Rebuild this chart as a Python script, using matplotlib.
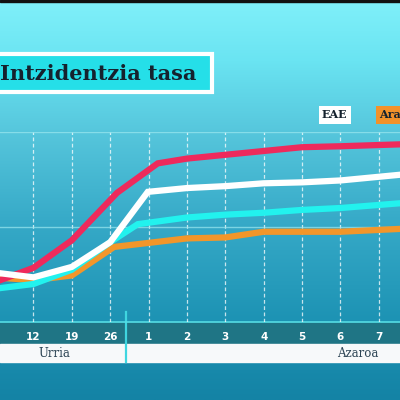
import numpy as np
import matplotlib.pyplot as plt
from matplotlib.colors import LinearSegmentedColormap
from matplotlib.patches import Rectangle

# Datuak: x = kategoria posizioa (0 = urriak 5, 4 = azaroak 1)
egunak = ["5", "12", "19", "26", "1", "2", "3", "4", "5", "6", "7", "8"]
hilabeteak = ["Urria", "Azaroa"]

gorria_x = [0, 1, 2, 3.18, 4.24, 5, 6, 7, 8, 9, 10.55]
gorria_y = [42, 57, 86, 136, 167, 172, 176, 180, 184, 185, 187]

eae_x = [0, 1, 2, 3, 3.98, 5, 6, 7, 8, 9, 10.55]
eae_y = [52, 47, 58, 84, 137, 141, 143, 146, 147, 149, 155]

ziana_x = [0, 1, 2, 3, 3.72, 5, 6, 7, 8, 9, 10.55]
ziana_y = [35, 40, 55, 84, 103, 110, 113, 115, 118, 120, 125]

araba_x = [0, 1, 2, 3.1, 5, 6, 7, 8, 9, 10.55]
araba_y = [47, 44, 49, 79, 88, 89, 95, 95, 95, 98]

fig = plt.figure(figsize=(4, 4), dpi=100)

# hondoko gradientea
bg = fig.add_axes([0, 0, 1, 1])
bg.axis("off")
cmap = LinearSegmentedColormap.from_list(
    "hondoa",
    [(0.0, "#80f0fa"), (0.15, "#6ae4f2"), (0.33, "#56c6dc"),
     (0.55, "#37aac8"), (0.8, "#1d93b4"), (1.0, "#1483a5")])
bg.imshow(np.linspace(0, 1, 256).reshape(-1, 1), aspect="auto", cmap=cmap,
          extent=[0, 1, 0, 1])
bg.set_xlim(0, 1)
bg.set_ylim(0, 1)

# goiko marra beltza
bg.add_patch(Rectangle((0, 0.995), 1, 0.005, color="#111111"))

# izenburuaren kutxa
bg.add_patch(Rectangle((-0.01, 0.77), 0.54, 0.095, facecolor="#25dfe8",
                       edgecolor="white", linewidth=3))
fig.text(0.0, 0.8, "Intzidentzia tasa", fontsize=15, fontweight="bold",
         family="DejaVu Serif", color="#15222e", va="baseline", ha="left")

# legenda
fig.text(0.837, 0.713, "EAE", fontsize=8, fontweight="bold",
         family="DejaVu Serif", color="#15222e", ha="center", va="center",
         bbox=dict(boxstyle="square,pad=0.3", facecolor="white", edgecolor="none"))
fig.text(0.948, 0.713, "Araba", fontsize=8, fontweight="bold",
         family="DejaVu Serif", color="#15222e", ha="left", va="center",
         bbox=dict(boxstyle="square,pad=0.3", facecolor="#f2922a", edgecolor="none"))

# behealdeko bandak
bg.add_patch(Rectangle((0, 0.14), 1, 0.054, color="#1f7585"))
bg.add_patch(Rectangle((0, 0.096), 1, 0.043, color="#f7f9fa"))
bg.plot([0.315, 0.315], [0.096, 0.22], color="#3fd6e0", lw=1.6)
bg.plot([0, 1], [0.194, 0.194], color="#55dde6", lw=1.2)

# grafikoa
ax = fig.add_axes([0, 0.195, 1, 0.475])
ax.patch.set_alpha(0)
for s in ax.spines.values():
    s.set_visible(False)

for i in range(len(egunak)):
    ax.axvline(i, color="white", lw=0.9, ls=(0, (3, 2)), alpha=0.75)
for v in [100, 200]:
    ax.axhline(v, color="#9be8f0", lw=1.0, alpha=0.7)

ax.plot(araba_x, araba_y, color="#f2962a", lw=4.5, solid_joinstyle="miter")
ax.plot(ziana_x, ziana_y, color="#22f2ee", lw=4.5, solid_joinstyle="miter")
ax.plot(gorria_x, gorria_y, color="#ee2a5c", lw=4.5, solid_joinstyle="miter")
ax.plot(eae_x, eae_y, color="white", lw=4.5, solid_joinstyle="miter")

ax.set_xlim(0.13, 10.55)
ax.set_ylim(0, 200)

# ertzetako egunak (5 eta 8) ez dira ikusten
ax.set_xticks(range(1, len(egunak) - 1))
ax.set_xticklabels(egunak[1:-1])
ax.tick_params(axis="x", length=0, pad=7, colors="white", labelsize=7.5)
for t in ax.get_xticklabels():
    t.set_fontweight("bold")
ax.set_yticks([])

# hilabeteen izenak
fig.text(0.137, 0.117, hilabeteak[0], fontsize=8.5, family="DejaVu Serif",
         color="#2c4454", ha="center", va="center")
fig.text(0.895, 0.117, hilabeteak[1], fontsize=8.5, family="DejaVu Serif",
         color="#2c4454", ha="center", va="center")

fig.savefig("out.png", dpi=100)
